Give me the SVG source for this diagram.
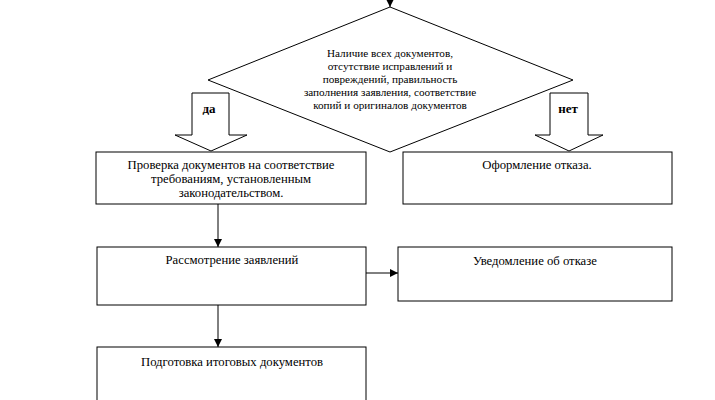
<svg xmlns="http://www.w3.org/2000/svg" width="715" height="400" viewBox="0 0 715 400">
<style>
.shape{fill:#fff;stroke:#000;stroke-width:1}
.line{fill:none;stroke:#000;stroke-width:1}
text{font-family:"Liberation Serif","Times New Roman",serif;fill:#000;text-anchor:middle}
.t{font-size:12.7px}
.d{font-size:11.2px}
.b{font-size:13px;font-weight:bold}
</style>
<defs>
<marker id="ah" markerWidth="8" markerHeight="8" refX="8" refY="4" orient="auto" markerUnits="userSpaceOnUse">
<path d="M0,0 L8,4 L0,8 Z" fill="#000"/>
</marker>
</defs>
<rect width="715" height="400" fill="#fff"/>
<g id="connectors">
<line class="line" x1="390" y1="-2" x2="390" y2="7" marker-end="url(#ah)"/>
<line class="line" x1="218" y1="204" x2="218" y2="247" marker-end="url(#ah)"/>
<line class="line" x1="366" y1="273" x2="398" y2="273" marker-end="url(#ah)"/>
<line class="line" x1="218" y1="305" x2="218" y2="347" marker-end="url(#ah)"/>
</g>
<g id="decision">
<polygon class="shape" points="390,7 573,80 390,152 208,80"/>
<text class="d" x="390" y="57">Наличие всех документов,</text>
<text class="d" x="390" y="70">отсутствие исправлений и</text>
<text class="d" x="390" y="83">повреждений, правильность</text>
<text class="d" x="390" y="96">заполнения заявления, соответствие</text>
<text class="d" x="390" y="109">копий и оригиналов документов</text>
</g>
<g id="yes">
<polygon class="shape" points="192,93 229,93 229,135 247,135 211,151 175,135 192,135"/>
<text class="b" x="209" y="113">да</text>
</g>
<g id="no">
<polygon class="shape" points="550,93 588,93 588,135 603,135 569,151 535,135 550,135"/>
<text class="b" x="568" y="113">нет</text>
</g>
<g id="check">
<rect class="shape" x="96" y="152" width="270" height="52"/>
<text class="t" x="231" y="169">Проверка документов на соответствие</text>
<text class="t" x="231" y="183">требованиям, установленным</text>
<text class="t" x="231" y="197">законодательством.</text>
</g>
<g id="refusal">
<rect class="shape" x="403" y="152" width="269" height="52"/>
<text class="t" x="537" y="169">Оформление отказа.</text>
</g>
<g id="review">
<rect class="shape" x="97" y="247" width="269" height="58"/>
<text class="t" x="232" y="264">Рассмотрение заявлений</text>
</g>
<g id="notice">
<rect class="shape" x="398" y="247" width="274" height="54"/>
<text class="t" x="535" y="265">Уведомление об отказе</text>
</g>
<g id="final">
<rect class="shape" x="97" y="347" width="269" height="70"/>
<text class="t" x="232" y="366">Подготовка итоговых документов</text>
</g>
</svg>
